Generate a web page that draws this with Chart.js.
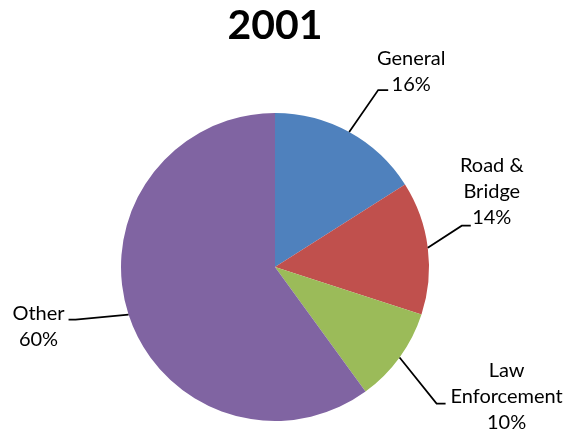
<!DOCTYPE html>
<html>
<head>
<meta charset="utf-8">
<script src="https://cdn.jsdelivr.net/npm/chart.js@4/dist/chart.umd.min.js"></script>
<style>
  html, body { margin: 0; padding: 0; background: #fff; }
  #wrap { width: 565px; height: 435px; position: relative; }
</style>
</head>
<body>
<div id="wrap"><canvas id="pie"></canvas></div>
<script>
// budget shares for the year
const chartTitle = "2001";
const categories = ["General", "Road & Bridge", "Law Enforcement", "Other"];
const labelLines = [["General"], ["Road &", "Bridge"], ["Law", "Enforcement"], ["Other"]];
const shares = [16, 14, 10, 60];
const sliceColors = ["#4F81BD", "#C0504D", "#9BBB59", "#8064A2"];

// leader line layout per slice: elbow offset from slice edge, stub length,
// text block offset from the stub end
const leaders = [
  { elbow: [29, -42], stub: 10, text: [23, -32] },
  { elbow: [34, -22], stub: 9, text: [21, -60] },
  { elbow: [37, 46], stub: 9, text: [61, -33] },
  { elbow: [-53, 5], stub: -7, text: [-30, -6] }
];

const FONT = "Lato, 'Open Sans', sans-serif";
const LINE_H = 26;

const pieLabels = {
  id: "pieLabels",
  afterDraw(chart) {
    const ctx = chart.ctx;
    ctx.save();
    // title
    ctx.fillStyle = "#000";
    ctx.font = "bold 41px " + FONT;
    ctx.textAlign = "center";
    ctx.textBaseline = "middle";
    ctx.fillText(chartTitle, 275, 26);

    const meta = chart.getDatasetMeta(0);
    meta.data.forEach((arc, i) => {
      const p = arc.getProps(["x", "y", "startAngle", "endAngle", "outerRadius"], true);
      const mid = (p.startAngle + p.endAngle) / 2;
      const ex = p.x + Math.cos(mid) * p.outerRadius;
      const ey = p.y + Math.sin(mid) * p.outerRadius;
      const L = leaders[i];
      const bx = ex + L.elbow[0], by = ey + L.elbow[1];
      const sx = bx + L.stub;
      ctx.strokeStyle = "#000";
      ctx.lineWidth = 1.75;
      ctx.beginPath();
      ctx.moveTo(ex, ey);
      ctx.lineTo(bx, by);
      ctx.lineTo(sx, by);
      ctx.stroke();

      const lines = labelLines[i].concat([shares[i] + "%"]);
      ctx.font = "20px " + FONT;
      ctx.fillStyle = "#000";
      ctx.textAlign = "center";
      ctx.textBaseline = "middle";
      const tx = sx + L.text[0];
      let ty = by + L.text[1];
      lines.forEach(t => { ctx.fillText(t, tx, ty); ty += LINE_H; });
    });
    ctx.restore();
  }
};

new Chart(document.getElementById("pie"), {
  type: "pie",
  data: {
    labels: categories,
    datasets: [{
      data: shares,
      backgroundColor: sliceColors,
      borderWidth: 0
    }]
  },
  options: {
    responsive: true,
    maintainAspectRatio: false,
    animation: false,
    layout: { padding: { top: 113, bottom: 14, left: 121, right: 136 } },
    plugins: {
      legend: { display: false },
      title: { display: false },
      tooltip: { enabled: false }
    }
  },
  plugins: [pieLabels]
});
</script>
</body>
</html>
